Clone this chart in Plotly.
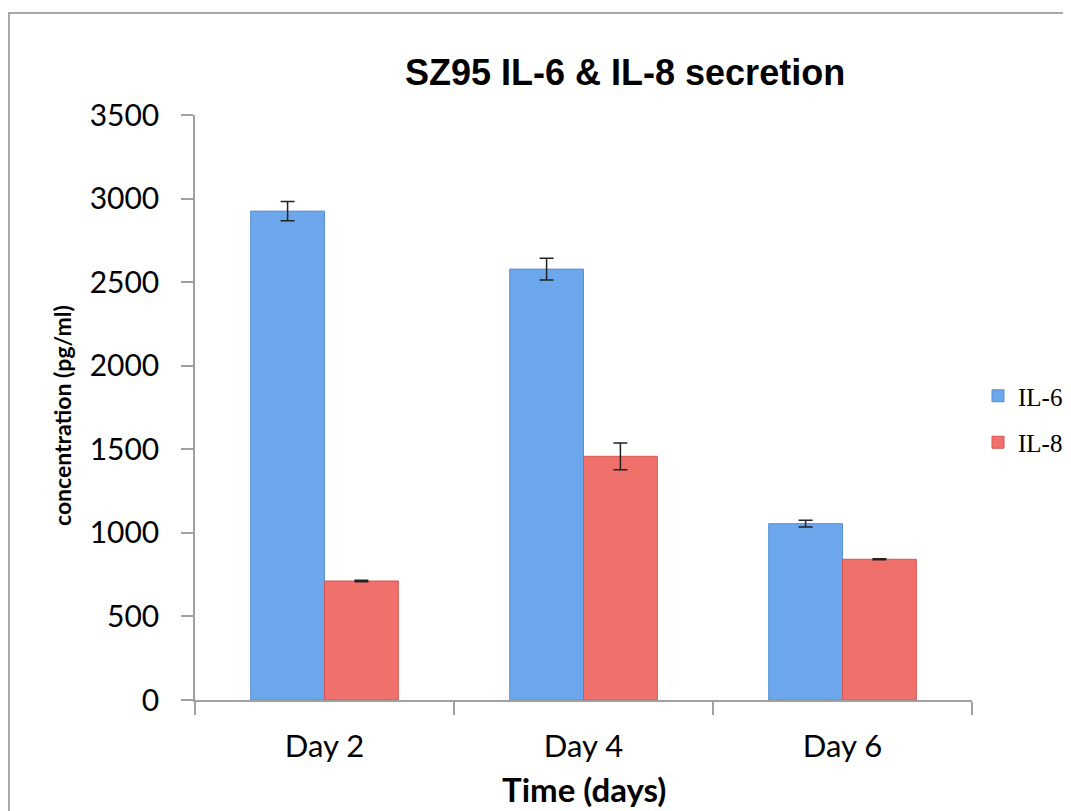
import plotly.graph_objects as go

categories = ["Day 2", "Day 4", "Day 6"]
il6_values = [2925, 2578, 1055]
il6_errors = [58, 65, 20]
il8_values = [712, 1458, 842]
il8_errors = [4, 80, 3]

fig = go.Figure()
fig.add_trace(go.Bar(
    x=categories, y=il6_values, name="IL-6", legendgroup="a",
    marker=dict(color="#6CA7EC", line=dict(color="#5A8FD6", width=1)),
    error_y=dict(type="data", array=il6_errors, visible=True, color="#222222", thickness=1.5, width=7),
))
fig.add_trace(go.Bar(
    x=categories, y=il8_values, name="IL-8", legendgroup="b",
    marker=dict(color="#F0706C", line=dict(color="#D65652", width=1)),
    error_y=dict(type="data", array=il8_errors, visible=True, color="#222222", thickness=1.5, width=7),
))

OFF = 8  # page body margin
W, H = 1071 - OFF, 811 - OFF
L, T = 195 - OFF, 115 - OFF
R = W - (972 - OFF)
B = H - (700 - OFF)
pw, ph = W - L - R, H - T - B

def px_x(x):
    return (x - OFF - L) / pw

def px_y(y):
    return (H - B - (y - OFF)) / ph

fig.update_layout(
    width=W, height=H,
    margin=dict(l=L, r=R, t=T, b=B, pad=0, autoexpand=False),
    paper_bgcolor="white", plot_bgcolor="white",
    barmode="group", bargap=0.43, bargroupgap=0,
    font=dict(family="Lato", color="#000000"),
    showlegend=True,
    legend=dict(xref="container", yref="container",
                x=(978 - OFF) / W, y=1 - (419 - OFF) / H, xanchor="left", yanchor="middle",
                font=dict(family="Liberation Serif", size=25, color="#000"),
                traceorder="grouped", tracegroupgap=11, bgcolor="rgba(0,0,0,0)"),
    xaxis=dict(type="category", showline=True, linecolor="#A0A0A0", linewidth=1.5,
               ticks="outside", tickson="boundaries", ticklen=13, tickcolor="#A0A0A0", tickwidth=1.5,
               tickfont=dict(family="Lato", size=31, color="#000"), ticklabelstandoff=18,
               showgrid=False, zeroline=False),
    yaxis=dict(range=[0, 3500], dtick=500, showline=True, linecolor="#A0A0A0", linewidth=1.5,
               ticks="outside", ticklen=12, tickcolor="#A0A0A0", tickwidth=1.5,
               tickfont=dict(family="Lato", size=30, color="#000"), ticklabelstandoff=16,
               showgrid=False, zeroline=False),
    shapes=[dict(type="rect", xref="paper", yref="paper",
                 x0=px_x(9), x1=px_x(1200), y0=px_y(900), y1=px_y(13),
                 line=dict(color="#A8A8A8", width=2), fillcolor="rgba(0,0,0,0)", layer="below")],
    annotations=[
        dict(text="<b>SZ95 IL-6 & IL-8 secretion</b>", xref="paper", yref="paper",
             x=px_x(625), y=px_y(72), xanchor="center", yanchor="middle", showarrow=False,
             font=dict(family="Liberation Sans", size=36, color="#000")),
        dict(text="<b>concentration (pg/ml)</b>", xref="paper", yref="paper",
             x=px_x(62), y=px_y(416), xanchor="center", yanchor="middle", showarrow=False,
             textangle=-90, font=dict(family="Lato", size=23, color="#000")),
        dict(text="<b>Time (days)</b>", xref="paper", yref="paper",
             x=px_x(584), y=px_y(789), xanchor="center", yanchor="middle", showarrow=False,
             font=dict(family="Lato", size=33, color="#000")),
    ],
)

fig.write_html("out.html")
